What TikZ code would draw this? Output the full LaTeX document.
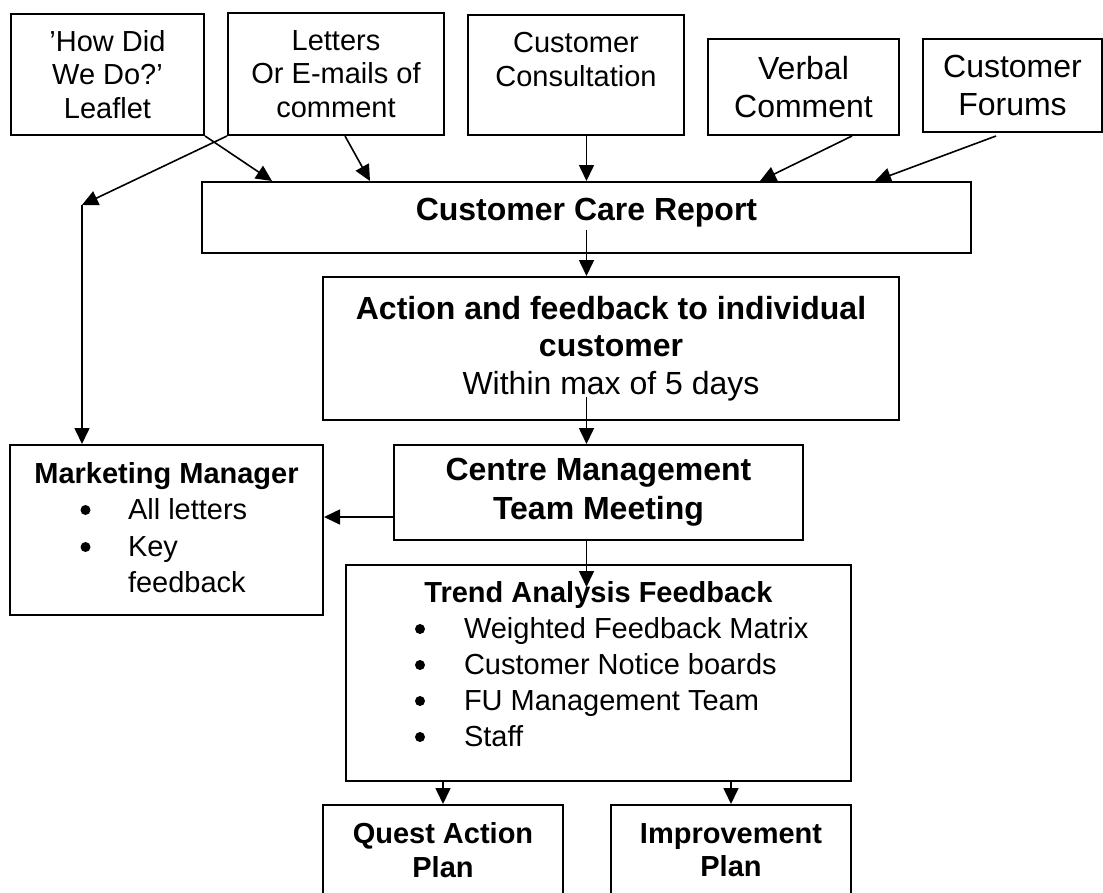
\documentclass[tikz,border=0pt]{standalone}
\usepackage{fontspec}
\setmainfont{Liberation Sans}
\usepackage{tikz}
\usetikzlibrary{arrows.meta}
\usetikzlibrary{calc}

\newcommand{\txtA}{\fontsize{29}{33.5}\selectfont}
\newcommand{\txtB}{\fontsize{32}{37.5}\selectfont}
\newcommand{\bitem}[1]{\hspace*{118pt}#1\par}

\begin{document}
\begin{tikzpicture}[x=1pt,y=-1pt,line width=1.6pt,>={Triangle[length=16pt,width=15pt]},
  box/.style={draw,line width=2pt,inner sep=0pt,align=center,anchor=north west},
  listbox/.style={draw,line width=2pt,inner sep=0pt,anchor=north west,font=\txtA}]
 \useasboundingbox (0,0) rectangle (1103,892);
 \clip (0,0) rectangle (1103,892);
 % sources
 \node[box,font=\txtA,minimum width=193pt,minimum height=121pt] (leaflet) at (10,13) {'How Did\\We Do?'\\Leaflet};
 \node[box,font=\txtA,minimum width=216pt,minimum height=122pt] (letters) at (227,12) {Letters\\Or E-mails of\\comment};
 \node[box,font=\txtA,minimum width=216pt,minimum height=120pt,text depth=31pt] (cons) at (467,14) {Customer\\Consultation};
 \node[box,font=\txtB,minimum width=191pt,minimum height=96pt] (verbal) at (707,38) {Verbal\\Comment};
 \node[box,font=\txtB,minimum width=179pt,minimum height=93pt] (forums) at (922,38) {Customer\\Forums};
 % report and actions
 \node[box,font=\txtB\bfseries,minimum width=769pt,minimum height=71pt,text depth=16pt] (ccr) at (201,181) {Customer Care Report};
 \node[box,font=\txtB,minimum width=576pt,minimum height=143pt] (act) at (322,276) {\textbf{Action and feedback to individual}\\\textbf{customer}\\Within max of 5 days};
 \node[box,font=\fontsize{32}{39}\selectfont\bfseries,minimum width=409pt,minimum height=95pt] (cen) at (393,444) {Centre Management\\Team Meeting};
 \node[listbox,minimum width=313pt,minimum height=170pt] (mkt) at (9,444) {\parbox[c][170pt][t]{313pt}{\baselineskip=36.5pt\vspace*{17pt}\centerline{\bfseries Marketing Manager}\bitem{All letters}\bitem{Key}\bitem{feedback}}};
 \node[listbox,minimum width=505pt,minimum height=216pt] (trend) at (345,564) {\parbox[c][216pt][t]{505pt}{\baselineskip=36pt\vspace*{16pt}\centerline{\bfseries Trend Analysis Feedback}\bitem{Weighted Feedback Matrix}\bitem{Customer Notice boards}\bitem{FU Management Team}\bitem{Staff}}};
 \node[box,font=\txtA\bfseries,minimum width=240pt,minimum height=90pt] (quest) at (322,804) {Quest Action\\Plan};
 \node[box,font=\txtA\bfseries,minimum width=240pt,minimum height=90pt] (impr) at (610,804) {Improvement\\Plan};
 % bullets
 \path[fill] ($(mkt.north west)+(76.5,66)$) circle (5);
 \path[fill] ($(mkt.north west)+(76.5,103)$) circle (5);
 \foreach \dy in {65,101,137,173}
  \path[fill] ($(trend.north west)+(75,\dy)$) circle (5);

 \coordinate (turn) at (82,205);
 \draw[->] (leaflet.south east) -- ($(ccr.north west)+(71,0)$);
 \draw[->] (letters.south west) -- (turn);
 \draw[->] (turn) -- (turn |- mkt.north);
 \draw[->] ($(letters.south west)+(118,0)$) -- ($(ccr.north west)+(169,0)$);
 \draw[->] (ccr.north |- cons.south) -- (ccr.north);
 \draw[->] ($(verbal.south east)+(-48,0)$) -- ($(ccr.north west)+(559,0)$);
 \draw[->] ($(forums.south west)+(74,3)$) -- ($(ccr.north west)+(674,0)$);
 % down the middle
 \draw[->] ($(ccr.center)+(0,12)$) -- (ccr.center |- act.north);
 \draw[->] ($(ccr.center |- act.south)+(0,-24)$) -- (ccr.center |- cen.north);
 \draw[->] ($(cen.west)+(0,24.5)$) coordinate (c) -- (c -| mkt.east);
 \draw[->] (ccr.center |- cen.south) -- ($(ccr.center |- trend.north)+(0,23)$);
 \draw[->] (quest.north |- trend.south) -- (quest.north);
 \draw[->] (impr.north |- trend.south) -- (impr.north);
\end{tikzpicture}
\end{document}
